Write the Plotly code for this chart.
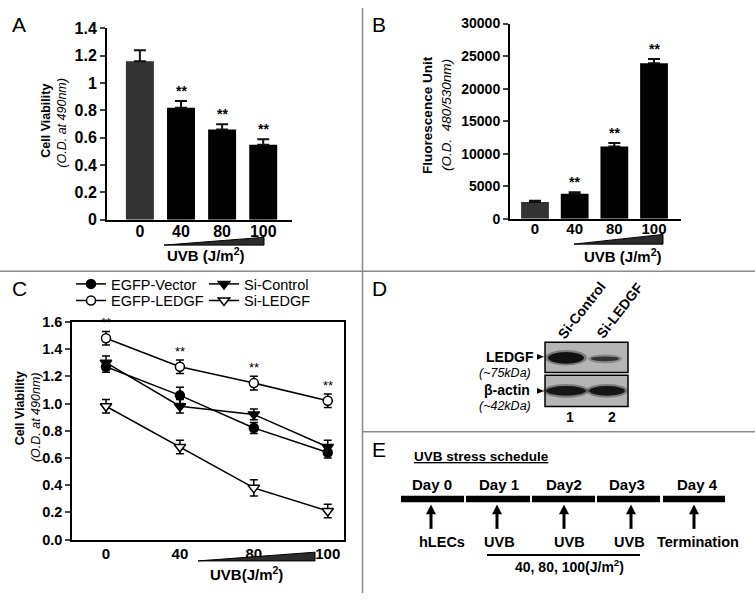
import plotly.graph_objects as go

W, H = 755, 602
FONT = "Liberation Sans, Arial, Helvetica, sans-serif"

# ---------------- data ----------------
uvb_doses = ["0", "40", "80", "100"]
a_viability = [1.16, 0.82, 0.66, 0.55]
a_error = [0.08, 0.05, 0.04, 0.04]
a_sig = ["", "**", "**", "**"]

b_fluorescence = [2600, 3850, 11100, 23900]
b_error = [200, 250, 550, 650]
b_sig = ["", "**", "**", "**"]

c_egfp_vector = [1.27, 1.06, 0.82, 0.64]
c_egfp_vector_err = [0.04, 0.06, 0.04, 0.04]
c_si_control = [1.30, 0.98, 0.92, 0.68]
c_si_control_err = [0.05, 0.05, 0.04, 0.05]
c_egfp_ledgf = [1.48, 1.27, 1.15, 1.02]
c_egfp_ledgf_err = [0.05, 0.05, 0.05, 0.05]
c_si_ledgf = [0.98, 0.68, 0.38, 0.21]
c_si_ledgf_err = [0.05, 0.05, 0.06, 0.05]
c_sig = ["**", "**", "**", "**"]

blot_lanes = ["Si-Control", "Si-LEDGF"]
blot_lane_numbers = ["1", "2"]
schedule_days = ["Day 0", "Day 1", "Day2", "Day3", "Day 4"]
schedule_events = ["hLECs", "UVB", "UVB", "UVB", "Termination"]

pos = list(range(len(uvb_doses)))


def px(x, y):
    return x / W, 1 - y / H


def fx(x):
    return x / W


def fy(y):
    return 1 - y / H


fig = go.Figure()

# ---------------- Panel A ----------------
fig.add_trace(go.Bar(
    x=pos, y=a_viability, width=0.68,
    marker=dict(color=["#333333", "#000000", "#000000", "#000000"], line=dict(width=0)),
    error_y=dict(type="data", array=a_error, arrayminus=[0] * 4, symmetric=False,
                 color="#111111", thickness=2, width=6),
    xaxis="x", yaxis="y", showlegend=False, hoverinfo="skip"))

# ---------------- Panel B ----------------
fig.add_trace(go.Bar(
    x=pos, y=b_fluorescence, width=0.7,
    marker=dict(color=["#333333", "#000000", "#000000", "#000000"], line=dict(width=0)),
    error_y=dict(type="data", array=b_error, arrayminus=[0] * 4, symmetric=False,
                 color="#111111", thickness=2, width=6),
    xaxis="x2", yaxis="y2", showlegend=False, hoverinfo="skip"))

# ---------------- Panel C ----------------
c_specs = [
    ("EGFP-Vector", c_egfp_vector, c_egfp_vector_err, "circle", "black", "legend"),
    ("Si-Control", c_si_control, c_si_control_err, "triangle-down", "black", "legend"),
    ("EGFP-LEDGF", c_egfp_ledgf, c_egfp_ledgf_err, "circle", "white", "legend2"),
    ("Si-LEDGF", c_si_ledgf, c_si_ledgf_err, "triangle-down", "white", "legend2"),
]
for name, vals, errs, sym, fill, leg in c_specs:
    fig.add_trace(go.Scatter(
        x=pos, y=vals, name=name, mode="lines+markers",
        line=dict(color="black", width=1.5),
        marker=dict(symbol=sym, size=10 if "triangle" in sym else 9, color=fill,
                    line=dict(color="black", width=1.5)),
        error_y=dict(type="data", array=errs, color="black", thickness=1.5, width=4),
        xaxis="x3", yaxis="y3", legend=leg, hoverinfo="skip"))

axis_common = dict(showgrid=False, zeroline=False, showline=True, linecolor="black",
                   fixedrange=True)
legend_common = dict(xanchor="left", yanchor="middle", orientation="h",
                     entrywidth=88, entrywidthmode="pixels", bgcolor="rgba(0,0,0,0)",
                     borderwidth=0, font=dict(size=14.5, family=FONT), itemclick=False,
                     itemdoubleclick=False)

fig.update_layout(
    width=W, height=H, autosize=False,
    margin=dict(l=0, r=0, t=0, b=0, pad=0),
    paper_bgcolor="white", plot_bgcolor="rgba(0,0,0,0)",
    font=dict(family=FONT, color="black"),
    showlegend=True,
    xaxis=dict(domain=[fx(107), fx(292)], range=[-0.8, 3.7], anchor="y",
               tickvals=pos, ticktext=uvb_doses, ticks="", linewidth=2,
               ticklabelstandoff=-4,
               tickfont=dict(size=16, weight="bold"), **axis_common),
    yaxis=dict(domain=[fy(218), fy(21)], range=[0, 1.4], anchor="x",
               tickvals=[0, 0.2, 0.4, 0.6, 0.8, 1.0, 1.2, 1.4],
               ticks="outside", ticklen=5, tickwidth=2, linewidth=2,
               tickfont=dict(size=16, weight="bold"), **axis_common),
    xaxis2=dict(domain=[fx(510), fx(681)], range=[-0.63, 3.68], anchor="y2",
                tickvals=pos, ticktext=uvb_doses, ticks="", linewidth=2,
                ticklabelstandoff=-5,
                tickfont=dict(size=15, weight="bold"), **axis_common),
    yaxis2=dict(domain=[fy(217), fy(16)], range=[0, 30000], anchor="x2",
                tickvals=[0, 5000, 10000, 15000, 20000, 25000, 30000], tickformat="d",
                ticks="outside", ticklen=5, tickwidth=2, linewidth=2,
                tickfont=dict(size=14, weight="bold"), **axis_common),
    xaxis3=dict(domain=[fx(72), fx(344)], range=[-0.46, 3.22], anchor="y3",
                tickvals=pos, ticktext=uvb_doses, ticks="", linewidth=1.5, mirror=True,
                tickfont=dict(size=15, weight="bold"), **axis_common),
    yaxis3=dict(domain=[fy(547), fy(323)], range=[0, 1.6], anchor="x3",
                tickvals=[0, 0.2, 0.4, 0.6, 0.8, 1.0, 1.2, 1.4, 1.6], tickformat=".1f",
                ticks="outside", ticklen=5, tickwidth=1.5, linewidth=1.5, mirror=True,
                tickfont=dict(size=14.5, weight="bold"), **axis_common),
    legend=dict(x=fx(71), y=fy(284), **legend_common),
    legend2=dict(x=fx(71), y=fy(301), **legend_common),
)

ann = []
shapes = []


def text(x, y, t, size=14, angle=0, xanchor="center", yanchor="middle", bold=False,
         italic=False):
    s = t
    if bold:
        s = "<b>" + s + "</b>"
    if italic:
        s = "<i>" + s + "</i>"
    ax, ay = px(x, y)
    ann.append(dict(x=ax, y=ay, xref="paper", yref="paper", text=s, showarrow=False,
                    textangle=angle, xanchor=xanchor, yanchor=yanchor,
                    font=dict(size=size, family=FONT, color="black")))


def path(pts, fill="black", lw=0, lc="black"):
    d = "M " + " L ".join("%.5f,%.5f" % px(x, y) for x, y in pts) + " Z"
    shapes.append(dict(type="path", path=d, xref="paper", yref="paper",
                       fillcolor=fill, line=dict(width=lw, color=lc)))


def line(x0, y0, x1, y1, w=1.5, c="black"):
    a0, b0 = px(x0, y0)
    a1, b1 = px(x1, y1)
    shapes.append(dict(type="line", x0=a0, y0=b0, x1=a1, y1=b1, xref="paper",
                       yref="paper", line=dict(width=w, color=c)))


def rect(x0, y0, x1, y1, fill, lw=0, lc="black", kind="rect", opacity=1):
    a0, b0 = px(x0, y0)
    a1, b1 = px(x1, y1)
    shapes.append(dict(type=kind, x0=a0, y0=b1, x1=a1, y1=b0, xref="paper",
                       yref="paper", fillcolor=fill, opacity=opacity,
                       line=dict(width=lw, color=lc)))


# panel dividers
line(362.5, 0, 362.5, 602, 1.5, "#8a8a8a")
line(0, 271, 755, 271, 1.5, "#8a8a8a")
line(362.5, 436, 755, 436, 1.5, "#8a8a8a")

# panel letters
for lab, x, y in [("A", 19, 17), ("B", 379, 17), ("C", 19, 289), ("D", 379, 289),
                  ("E", 379, 454)]:
    text(x, y, lab, size=21)

# significance stars A, B, C
for i in pos:
    if a_sig[i]:
        ann.append(dict(x=i, y=a_viability[i] + a_error[i], xref="x", yref="y",
                        text="<b>" + a_sig[i] + "</b>", showarrow=False, yanchor="bottom",
                        font=dict(size=14, family=FONT)))
    if b_sig[i]:
        ann.append(dict(x=i, y=b_fluorescence[i] + b_error[i], xref="x2", yref="y2",
                        text="<b>" + b_sig[i] + "</b>", showarrow=False, yanchor="bottom",
                        font=dict(size=14, family=FONT)))
    if c_sig[i]:
        ann.append(dict(x=i, y=c_egfp_ledgf[i] + c_egfp_ledgf_err[i], xref="x3", yref="y3",
                        text=c_sig[i], showarrow=False, yanchor="bottom", yshift=-1,
                        font=dict(size=13, family=FONT)))

# axis titles
text(46, 116, "Cell Viability", size=12.5, angle=-90, bold=True)
text(62, 118, "(O.D. at 490nm)", size=12.5, angle=-90, italic=True)
text(428, 110, "Fluorescence Unit", size=13.5, angle=-90, bold=True)
text(447, 110, "(O.D.\u00a0 480/530nm)", size=13.5, angle=-90, italic=True)
text(20, 412, "Cell Viability", size=12.5, angle=-90, bold=True)
text(36, 421, "(O.D. at 490nm)", size=12.5, angle=-90, italic=True)

# UVB wedges and labels
path([(164, 244), (264, 236), (264, 244)], fill="#2b2b2b", lw=1, lc="black")
path([(574, 243), (663, 233), (663, 243)], fill="#2b2b2b", lw=1, lc="black")
path([(198, 569), (315, 560), (315, 569)], fill="#2b2b2b", lw=1, lc="black")
text(206, 254, "UVB (J/m<sup>2</sup>)", size=15, bold=True)
text(623, 255, "UVB (J/m<sup>2</sup>)", size=15, bold=True)
text(246, 582, "UVB(J/m<sup>2</sup>)", size=15, bold=True)

# ---------------- Panel D (western blot) ----------------
rect(545, 344, 628, 375, "#b5b5b5", lw=1.5)
rect(545, 378, 628, 410, "#b5b5b5", lw=1.5)
bands = [(566, 360, 36, 12, "#111111"), (605, 361, 28, 5, "#333333"),
         (566, 394, 40, 10, "#151515"), (607, 394, 36, 10, "#151515")]
for cx, cy, bw, bh, col in bands:
    rect(cx - bw / 2 - 3, cy - bh / 2 - 2, cx + bw / 2 + 3, cy + bh / 2 + 2, col,
         kind="circle", opacity=0.35)
    rect(cx - bw / 2, cy - bh / 2, cx + bw / 2, cy + bh / 2, col, kind="circle")
text(536, 359, "LEDGF", size=14, bold=True, xanchor="right")
path([(537, 356), (544, 359), (537, 362)])
text(533, 375.5, "(~75kDa)", size=12.5, italic=True, xanchor="right")
text(532, 393, "\u03b2-actin", size=14, bold=True, xanchor="right")
path([(537, 391), (544, 394), (537, 397)])
text(533, 410, "(~42kDa)", size=12.5, italic=True, xanchor="right")
for lab, cx in zip(blot_lanes, [582, 620]):
    text(cx, 311, lab, size=14, bold=True, angle=-52)
for lab, cx in zip(blot_lane_numbers, [570, 612]):
    text(cx, 421, lab, size=14, bold=True)

# ---------------- Panel E (schedule) ----------------
text(412, 462, "<u>UVB stress schedule</u>", size=13.5, bold=True, xanchor="left")
segs = [(401, 464), (466, 530), (532, 595), (597, 660), (663, 725)]
for x0, x1 in segs:
    rect(x0, 502, x1, 508.5, "black")
day_x = [432, 499, 564, 627, 697]
for lab, x in zip(schedule_days, day_x):
    text(x, 490, lab, size=15, bold=True)
arrow_x = [431, 497, 564, 631, 694]
for x in arrow_x:
    line(x, 536, x, 518, 3)
    path([(x - 5, 521), (x, 511), (x + 5, 521)])
event_x = [442, 499, 569, 629, 698]
for lab, x in zip(schedule_events, event_x):
    text(x, 550, lab, size=14.5, bold=True)
line(487, 563, 640, 563, 2)
text(569, 574, "40, 80, 100(J/m<sup>2</sup>)", size=14, bold=True)

fig.update_layout(annotations=ann, shapes=shapes)
fig.write_html("out.html", config={"displayModeBar": False},
               post_script="document.body.style.margin='0px';"
                           "document.body.style.padding='0px';")
